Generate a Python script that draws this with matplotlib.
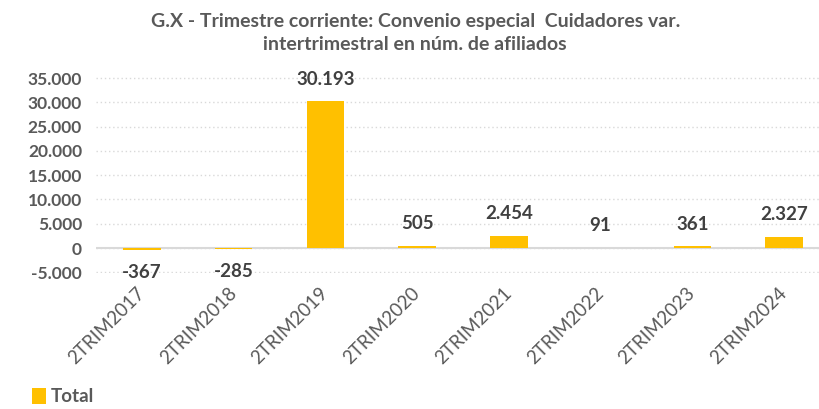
import matplotlib.pyplot as plt
from matplotlib.ticker import FuncFormatter

plt.rcParams['font.family'] = ['Lato', 'DejaVu Sans']

periods = ["2TRIM2017", "2TRIM2018", "2TRIM2019", "2TRIM2020",
           "2TRIM2021", "2TRIM2022", "2TRIM2023", "2TRIM2024"]
values = [-367, -285, 30193, 505, 2454, 91, 361, 2327]
series_name = "Total"

bar_color = "#FFC000"
text_grey = "#595959"
label_grey = "#404040"


def fmt_es(v, pos=None):
    # thousands separator with a dot
    return f"{int(v):,}".replace(",", ".")


fig = plt.figure(figsize=(8.19, 4.09), dpi=100)
ax = fig.add_axes([96 / 819, 0.3318, 734 / 819, 0.4797])

x = range(len(periods))
bars = ax.bar(x, values, width=0.41, color=bar_color, label=series_name, zorder=3)

for xi, v in zip(x, values):
    off = 16 if v >= 0 else -16
    ax.annotate(fmt_es(v), (xi, v), xytext=(0, off), textcoords="offset points",
                ha="center", va="center", fontsize=13.5, fontweight="bold",
                color=label_grey)

ax.set_xlim(-0.5, 7.5)
ax.set_ylim(-5200, 35200)
ax.set_yticks(range(-5000, 35001, 5000))
ax.yaxis.set_major_formatter(FuncFormatter(fmt_es))
ax.grid(axis="y", linestyle=(0, (1, 2)), color="#D9D9D9", linewidth=1, zorder=0)
ax.axhline(0, color="#D9D9D9", linewidth=1.5, zorder=2)

for s in ax.spines.values():
    s.set_visible(False)
ax.tick_params(length=0)
ax.tick_params(axis="y", labelsize=12.5, labelcolor=text_grey, pad=10)
for t in ax.get_yticklabels():
    t.set_fontweight("bold")

ax.set_xticks(list(x))
ax.set_xticklabels(periods, rotation=45, ha="right", va="center",
                   rotation_mode="anchor", fontsize=13.5, color=text_grey)
ax.tick_params(axis="x", pad=12)

fig.text(0.507, 0.87, "G.X - Trimestre corriente: Convenio especial  Cuidadores var.\nintertrimestral en núm. de afiliados",
         ha="center", va="bottom", fontsize=14, fontweight="bold",
         color=text_grey, linespacing=1.45)

fig.legend(loc="lower left", bbox_to_anchor=(0.035, 0.0), frameon=False,
           borderaxespad=0.1, borderpad=0.1,
           handlelength=0.7, handleheight=0.9, handletextpad=0.3,
           prop={"size": 13.5, "weight": "bold"}, labelcolor=text_grey)

fig.savefig("out.png", dpi=100)
